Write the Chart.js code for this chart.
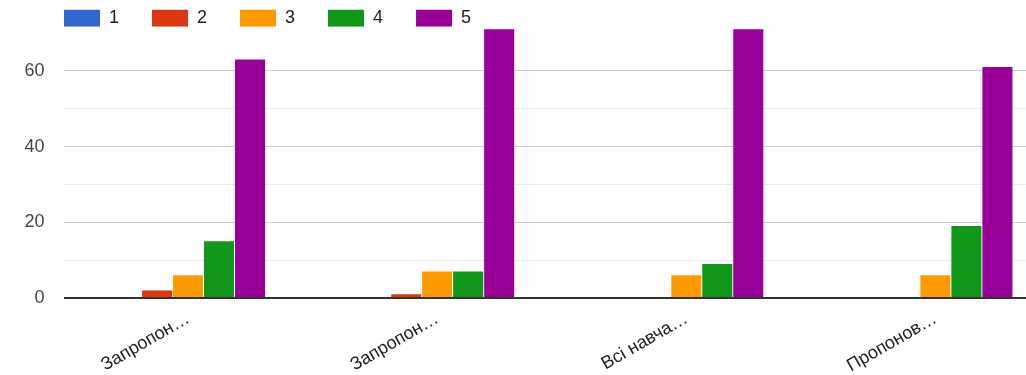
<!DOCTYPE html>
<html>
<head>
<meta charset="utf-8">
<script src="https://cdn.jsdelivr.net/npm/chart.js@4"></script>
<style>
  html, body { margin: 0; padding: 0; background: #fff; overflow: hidden; }
  #wrap { width: 1060px; height: 375px; position: relative; }
</style>
</head>
<body>
<div id="wrap"><canvas id="chart"></canvas></div>
<script>
const categories = ['Запропон…', 'Запропон…', 'Всі навча…', 'Пропонов…'];
const seriesNames = ['1', '2', '3', '4', '5'];
const seriesColors = ['#3366cc', '#dc3912', '#ff9900', '#109618', '#990099'];
const score1 = [0, 0, 0, 0];
const score2 = [2, 1, 0, 0];
const score3 = [6, 7, 6, 6];
const score4 = [15, 7, 9, 19];
const score5 = [63, 71, 71, 61];
const yTickLabels = [0, 20, 40, 60];

const seriesValues = [score1, score2, score3, score4, score5];

// legend sits to the right of the y labels, like the original
const shiftLegend = {
  id: 'shiftLegend',
  afterLayout(chart) {
    chart.legend.left += 31;
    chart.legend.right += 31;
    chart.legend.top -= 3;
    chart.legend.bottom -= 3;
  }
};

const ctx = document.getElementById('chart').getContext('2d');
new Chart(ctx, {
  type: 'bar',
  data: {
    labels: categories,
    datasets: seriesNames.map((name, i) => ({
      label: name,
      data: seriesValues[i],
      backgroundColor: seriesColors[i],
      borderWidth: 0,
      categoryPercentage: 0.622,
      barPercentage: 0.97,
      clip: false
    }))
  },
  options: {
    responsive: true,
    maintainAspectRatio: false,
    animation: false,
    layout: { padding: { top: -27.5, left: 0, right: 0, bottom: 0 } },
    plugins: {
      tooltip: { enabled: false },
      legend: {
        position: 'top',
        align: 'start',
        maxHeight: 50.5,
        labels: {
          boxWidth: 36,
          boxHeight: 17,
          padding: 33,
          color: '#222',
          font: { family: 'Arial, "Liberation Sans", sans-serif', size: 18 }
        }
      }
    },
    scales: {
      x: {
        grid: { display: false },
        border: { display: false },
        ticks: {
          autoSkip: false,
          minRotation: 30,
          maxRotation: 30,
          padding: 2,
          color: '#222',
          font: { family: 'Arial, "Liberation Sans", sans-serif', size: 18 }
        },
        afterFit: (scale) => { scale.height = 77; }
      },
      y: {
        min: 0,
        max: 70.85,
        border: { display: false },
        grid: {
          drawTicks: false,
          color: (c) => {
            const v = c.tick.value;
            if (v === 0) return '#333';
            if (v % 20 === 0) return '#cccccc';
            if (v % 10 === 0) return '#ebebeb';
            return 'rgba(0,0,0,0)';
          },
          lineWidth: (c) => (c.tick.value === 0 ? 2 : 1)
        },
        ticks: {
          stepSize: 10,
          padding: 19,
          color: '#444',
          font: { family: 'Arial, "Liberation Sans", sans-serif', size: 18 },
          callback: (v) => (yTickLabels.includes(v) ? String(v) : '')
        },
        afterFit: (scale) => { scale.width = 63.5; }
      }
    }
  },
  plugins: [shiftLegend]
});
</script>
</body>
</html>
